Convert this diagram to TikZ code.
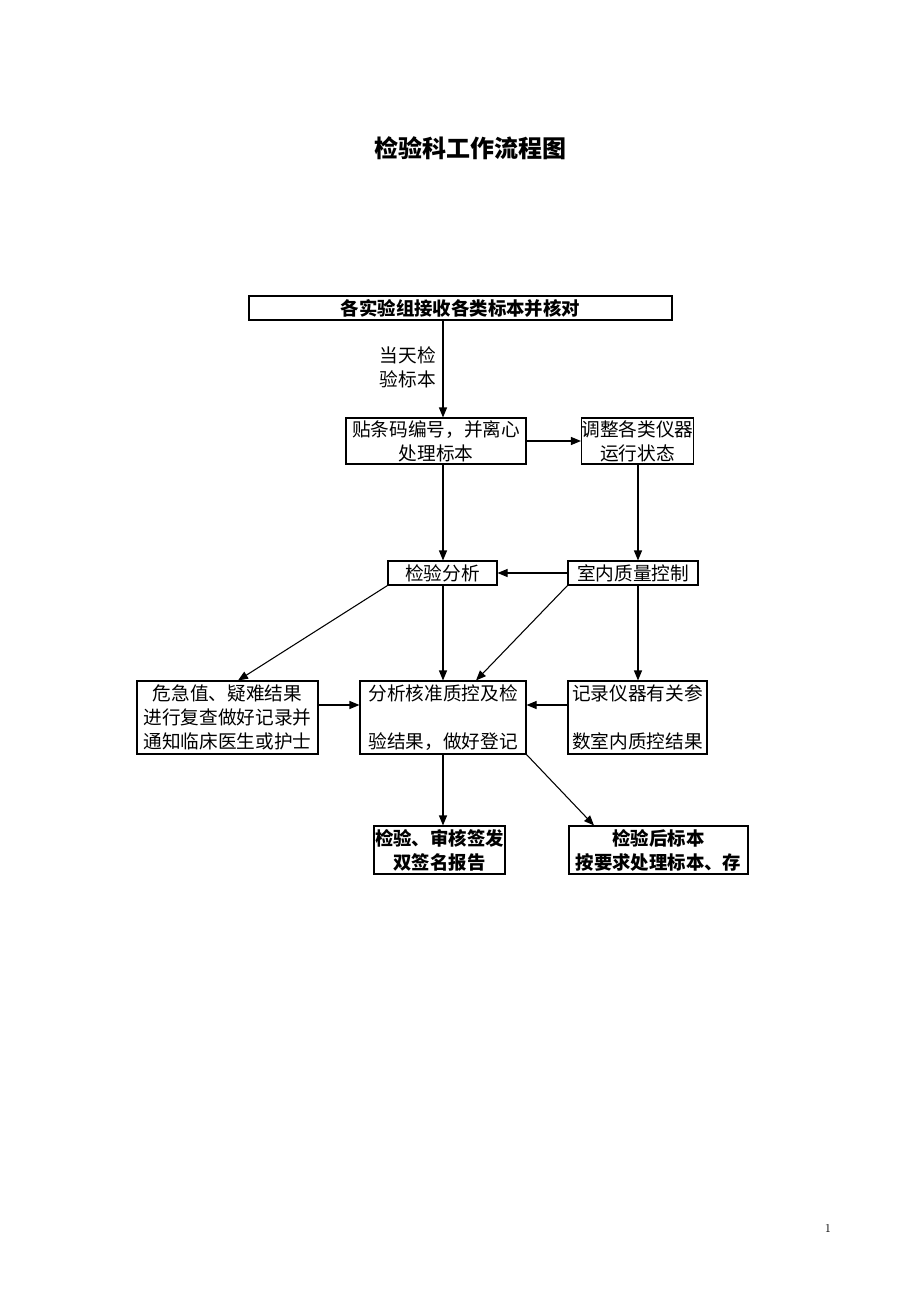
\documentclass[tikz,border=0pt]{standalone}
\usepackage{fontspec}
\newfontfamily\cjk{Noto Sans CJK SC}
\usetikzlibrary{arrows.meta,calc}
\tikzset{
  box/.style={draw=black, line width=0.8pt, inner sep=0pt, align=center, fill=white,
    font=\cjk\fontsize{14}{18}\selectfont},
  boldbox/.style={box, font=\cjk\bfseries\fontsize{13.8}{18}\selectfont},
  arr/.style={draw=black, line width=0.8pt, -{Triangle[length=7.5pt,width=6pt]}},
}
\begin{document}
\begin{tikzpicture}[x=0.75pt,y=-0.75pt]
\useasboundingbox (0,0) rectangle (920,1302);
\node[font=\cjk\bfseries\fontsize{18}{20}\selectfont] (title) at (470,148) {检验科工作流程图};
\node[boldbox, minimum width={423*0.75pt}, minimum height={24*0.75pt}] (top) at (460.5,308) {各实验组接收各类标本并核对};
\node[box, minimum width={180*0.75pt}, minimum height={46*0.75pt}] (b2) at (436,441) {贴条码编号，并离心\\处理标本};
\node[box, minimum width={111*0.75pt}, minimum height={46*0.75pt}] (b3) at (637.5,441) {调整各类仪器\\运行状态};
\node[box, minimum width={109*0.75pt}, minimum height={24*0.75pt}] (b4) at (442.5,573) {检验分析};
\node[box, minimum width={130*0.75pt}, minimum height={24*0.75pt}] (b5) at (633,573) {室内质量控制};
\node[box, minimum width={181*0.75pt}, minimum height={73*0.75pt}] (b6) at (227.5,717.5) {危急值、疑难结果\\进行复查做好记录并\\通知临床医生或护士};
\node[box, minimum width={166*0.75pt}, minimum height={73*0.75pt}] (b7) at (443,717.5) {分析核准质控及检\\[18pt]验结果，做好登记};
\node[box, minimum width={139*0.75pt}, minimum height={73*0.75pt}] (b8) at (637.5,717.5) {记录仪器有关参\\[18pt]数室内质控结果};
\node[boldbox, minimum width={131*0.75pt}, minimum height={48*0.75pt}] (b9) at (439.5,850) {检验、审核签发\\双签名报告};
\node[boldbox, minimum width={179*0.75pt}, minimum height={48*0.75pt}] (b10) at (658.5,850) {检验后标本\\按要求处理标本、存};
\node[anchor=east, align=right, inner sep=0pt, font=\cjk\fontsize{14}{18}\selectfont] (lab) at (436,367) {当天检\\验标本};
\node[font=\fontsize{9}{10}\selectfont, inner sep=0pt] (pg) at (828,1228) {1};
\coordinate (x443) at (443,0);
\coordinate (x638) at (638,0);
\coordinate (x238) at (238,0);
\coordinate (x476) at (476,0);
\coordinate (x594) at (594,0);
\coordinate (y705) at (0,705);
\path[arr] (top.south -| x443) -- (b2.north -| x443);
\path[arr] (b2.east) -- (b3.west);
\path[arr] (b2.south -| x443) -- (b4.north -| x443);
\path[arr] (b3.south -| x638) -- (b5.north -| x638);
\path[arr] (b5.west) -- (b4.east);
\path[arr] (b4.south west) -- (b6.north -| x238);
\path[arr] (b4.south -| x443) -- (b7.north -| x443);
\path[arr] (b5.south west) -- (b7.north -| x476);
\path[arr] (b5.south -| x638) -- (b8.north -| x638);
\path[arr] (b6.east |- y705) -- (b7.west |- y705);
\path[arr] (b8.west |- y705) -- (b7.east |- y705);
\path[arr] (b7.south -| x443) -- (b9.north -| x443);
\path[arr] (b7.south east) -- (b10.north -| x594);
\end{tikzpicture}
\end{document}
